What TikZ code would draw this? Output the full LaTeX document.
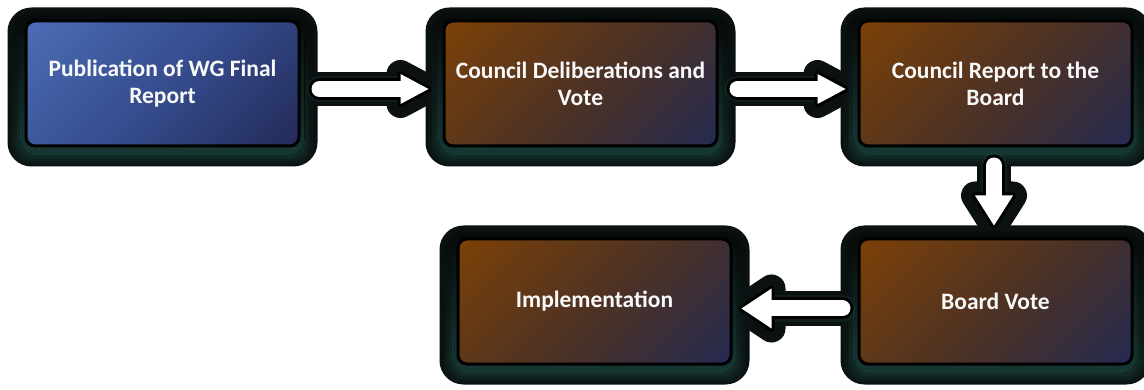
\documentclass[tikz,border=0pt]{standalone}
\usepackage{fontspec}
\setmainfont{Carlito}
\usetikzlibrary{calc,backgrounds}

\definecolor{bbrown}{HTML}{7A4008}
\definecolor{bmid}{HTML}{4A3126}
\definecolor{bnavy}{HTML}{242A52}
\definecolor{bblue}{HTML}{4A6CB4}
\definecolor{bbluemid}{HTML}{34498A}
\definecolor{bbluedark}{HTML}{222A55}
\definecolor{glowblack}{HTML}{0B1111}
\definecolor{glowteal}{HTML}{1F4B46}

\pgfdeclareverticalshading{brownsh}{100bp}{color(0bp)=(bnavy); color(14bp)=(bnavy); color(46bp)=(bmid); color(84bp)=(bbrown); color(100bp)=(bbrown)}
\pgfdeclareverticalshading{bluesh}{100bp}{color(0bp)=(bbluedark); color(14bp)=(bbluedark); color(46bp)=(bbluemid); color(84bp)=(bblue); color(100bp)=(bblue)}

\tikzset{
  stagebox/.style={minimum width=273pt, minimum height=125pt, rounded corners=9pt,
    draw=black, line width=3pt, shading=brownsh, shading angle=45,
    text=white!95!gray, font=\bfseries\fontsize{23.5}{27}\selectfont, align=center, inner sep=0pt},
  bluebox/.style={stagebox, shading=bluesh, shading angle=45},
}

\newcommand\boxglowblack[1]{%
  \fill[glowblack, rounded corners=24pt] ($(#1.north west)+(-17,-12)$) rectangle ($(#1.south east)+(17,19)$);}
\newcommand\boxglowteal[1]{%
  \foreach \e/\o in {13/0.2,10/0.3,7/0.45,4/0.7} {%
    \fill[rounded corners=18pt, top color=glowblack, bottom color=glowteal, opacity=\o]
      ($(#1.north west)+(-\e,-\e+7)$) rectangle ($(#1.south east)+(\e,\e+4)$);}}

\newcommand\arrowprep[4]{% start, end, head half, head length
  \coordinate (#1-hb) at ($(#2)!#4!(#1)$);
  \coordinate (#1-hl) at ($(#1-hb)!#3!90:(#2)$);
  \coordinate (#1-hr) at ($(#1-hb)!#3!-90:(#2)$);}
\newcommand\arrowglowblack[2]{%
  \begin{scope}[shift={(0,3)}]
  \draw[line width=34pt, line cap=round, glowblack] (#1) -- (#1-hb);
  \filldraw[line width=28pt, line join=round, glowblack] (#1-hl) -- (#2) -- (#1-hr) -- cycle;
  \end{scope}}
\newcommand\arrowglowteal[2]{%
  \begin{scope}[shift={(0,6)}]
  \foreach \w/\o in {26/0.25,20/0.35,14/0.6} {%
    \draw[line width=\w pt, line cap=round, glowteal, opacity=\o] (#1) -- (#1-hb);}
  \end{scope}}
\newcommand\blockarrow[2]{%
  \draw[line width=22pt, line cap=round, black] (#1) -- (#1-hb);
  \filldraw[line width=6pt, line join=round, black] (#1-hl) -- (#2) -- (#1-hr) -- cycle;
  \draw[line width=16pt, line cap=round, white] (#1) -- (#1-hb);
  \fill[white] (#1-hl) -- (#2) -- (#1-hr) -- cycle;}

\begin{document}
\begin{tikzpicture}[x=1pt,y=-1pt]
\useasboundingbox (0,0) rectangle (1144,390);

\node[bluebox]  (b1) at (162.5,83.5) {Publication of WG Final\\Report};
\node[stagebox] (b2) at (580.5,83.5) {Council Deliberations and\\Vote};
\node[stagebox] (b3) at (995.5,83.5) {Council Report to the\\Board};
\node[stagebox] (b4) at (594.5,301.5) {Implementation};
\node[stagebox] (b5) at (995.5,301.5) {Board Vote};

\coordinate (s1) at ($(b1.east)+(19,5.5)$);
\coordinate (e1) at ($(b2.west)+(-14,5.5)$);
\coordinate (s2) at ($(b2.east)+(19,5.5)$);
\coordinate (e2) at ($(b3.west)+(-12,5.5)$);
\coordinate (s3) at ($(b3.south)+(-1.5,18)$);
\coordinate (e3) at ($(b5.north)+(-1.5,-12)$);
\coordinate (s4) at ($(b5.west)+(-15,7)$);
\coordinate (e4) at ($(b4.east)+(9,7)$);

\arrowprep{s1}{e1}{15pt}{28pt}
\arrowprep{s2}{e2}{15pt}{28pt}
\arrowprep{s3}{e3}{19pt}{30pt}
\arrowprep{s4}{e4}{20pt}{30pt}

\begin{scope}[on background layer]
  \fill[white] (0,0) rectangle (1144,390);
  \foreach \b in {b1,b2,b3,b4,b5} {\boxglowblack{\b}}
  \arrowglowblack{s1}{e1}
  \arrowglowblack{s2}{e2}
  \arrowglowblack{s3}{e3}
  \arrowglowblack{s4}{e4}
  \foreach \b in {b1,b2,b3,b4,b5} {\boxglowteal{\b}}
  \arrowglowteal{s1}{e1}
  \arrowglowteal{s2}{e2}
  \arrowglowteal{s3}{e3}
  \arrowglowteal{s4}{e4}
  \blockarrow{s1}{e1}
  \blockarrow{s2}{e2}
  \blockarrow{s3}{e3}
  \blockarrow{s4}{e4}
\end{scope}
\end{tikzpicture}
\end{document}
